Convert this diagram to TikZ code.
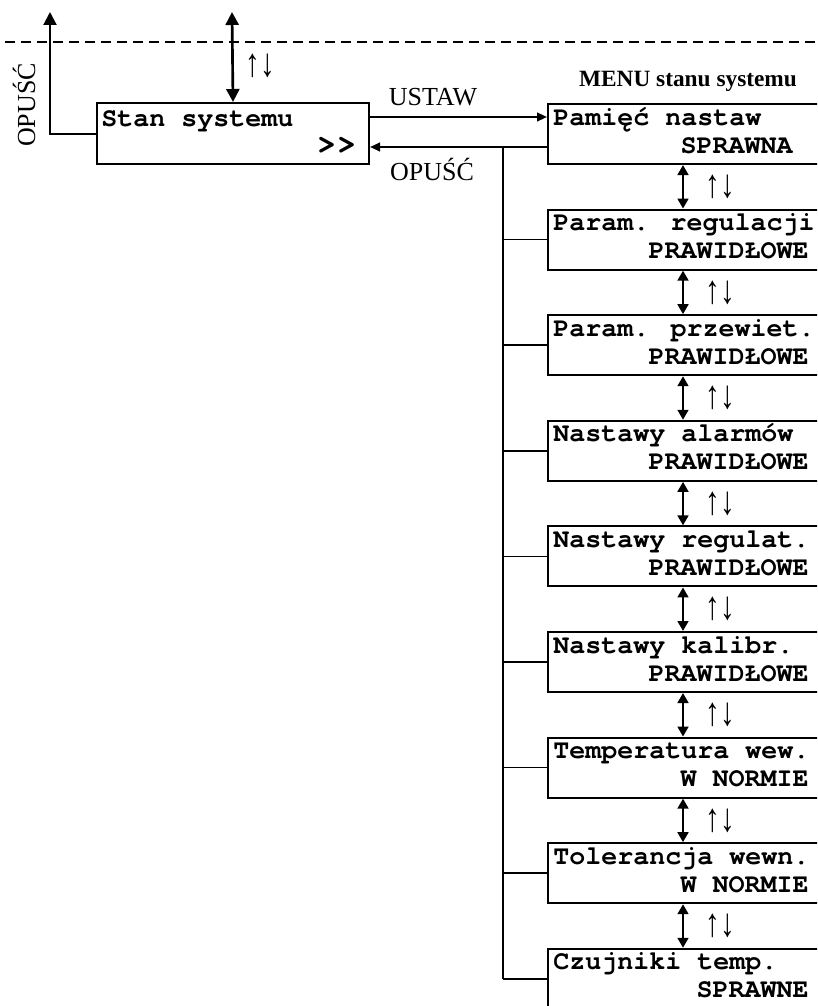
\documentclass[tikz,border=0pt]{standalone}
\usepackage{fontspec}
\setmainfont{Liberation Serif}
\newfontfamily\monob{TeX Gyre Cursor}
\usetikzlibrary{arrows.meta,calc}
\begin{document}
\begin{tikzpicture}[x=0.75pt,y=-0.75pt,
  box/.style={draw, line width=1.5pt, minimum width=212.25pt, minimum height=45pt, inner sep=0pt, anchor=north west},
  sbox/.style={draw, line width=1.5pt, minimum width=204pt, minimum height=45.75pt, inner sep=0pt, anchor=north west},
  mtxt/.style={font=\monob\bfseries\fontsize{20}{24}\selectfont, inner sep=0pt},
  lbl/.style={font=\fontsize{19.5}{23}\selectfont, inner sep=0pt},
  ttl/.style={font=\bfseries\fontsize{17.5}{21}\selectfont, inner sep=0pt},
  ud/.style={font=\fontsize{20}{24}\selectfont, inner sep=0pt},
  bigarr/.style={line width=1.5pt, -{Triangle[length=9.75pt,width=9.75pt]}},
  bigdbl/.style={line width=2pt, {Triangle[length=9.75pt,width=9.75pt]}-{Triangle[length=9.75pt,width=9.75pt]}},
  dbl/.style={line width=2pt, {Triangle[length=7.5pt,width=8pt]}-{Triangle[length=7.5pt,width=8pt]}},
  harr/.style={line width=1.5pt, -{Triangle[length=7.5pt,width=6.5pt]}},
  busline/.style={line width=1.3pt},
]
\useasboundingbox (0,0) rectangle (817,1006);
\clip (0,0) rectangle (817,1006);

% dashed separator
\draw[line width=1.5pt, dash pattern=on 7.5pt off 4.5pt] (5,42) -- (817,42);

% Stan systemu
\node[sbox] (s) at (96,102) {};
\node[mtxt, anchor=base west] (st) at (101,126) {Stan systemu};
\node[mtxt, anchor=base east] (sg) at (357,153) {\scalebox{1.25}{\mbox{>}\mbox{>}}};

\coordinate (t1) at (50,12);
\coordinate (t2) at (232,12);
\draw[bigarr] (s.west) -| (t1);
\draw[bigdbl] (t2) -- (s.north);
\node[lbl, anchor=base, rotate=90] (op1) at (35,105) {OPUŚĆ};
\node[ud] (ud0) at (260,66) {\scalebox{1.1}[1.5]{↑↓}};

% menu boxes
\foreach \i/\a/\b/\e in {
  1/Pamięć nastaw/SPRAWNA/793,
  2/Param. regulacji/PRAWIDŁOWE/809,
  3/Param. przewiet./PRAWIDŁOWE/809,
  4/Nastawy alarmów/PRAWIDŁOWE/809,
  5/Nastawy regulat./PRAWIDŁOWE/809,
  6/Nastawy kalibr./PRAWIDŁOWE/809,
  7/Temperatura wew./W NORMIE/809,
  8/Tolerancja wewn./W NORMIE/809,
  9/Czujniki temp./SPRAWNE/809}{
  \pgfmathsetmacro{\ty}{103+(\i-1)*105.6}
  \node[box] (b\i) at (547,\ty) {};
  \node[mtxt, anchor=base west] (b\i a) at (553,\ty+22) {\a};
  \node[mtxt, anchor=base east] (b\i b) at (\e,\ty+50) {\b};
}

\node[ttl, anchor=base] (menu) at (688,87) {MENU stanu systemu};

% USTAW / OPUSC arrows
\coordinate (uy) at (0,117);
\coordinate (oy) at (0,147);
\draw[harr] (s.east |- uy) -- (b1.west |- uy);
\draw[harr] (b1.west |- oy) -- (s.east |- oy);
\node[lbl, anchor=base] (ustaw) at (433,105) {USTAW};
\node[lbl, anchor=base] (opusc) at (432,180) {OPUŚĆ};

% bus
\coordinate (bus) at (503,0);
\draw[busline] (bus |- oy) -- (bus |- b9.west);
\foreach \i in {2,...,9}{
  \draw[busline] (bus |- b\i.west) -- (b\i.west);
}

% vertical double arrows
\coordinate (col) at (683,0);
\foreach \i/\j in {1/2,2/3,3/4,4/5,5/6,6/7,7/8,8/9}{
  \draw[dbl] (b\i.south -| col) -- (b\j.north -| col);
  \node[ud] (ud\i) at ($(b\i.south -| col)!0.5!(b\j.north -| col) + (37,0)$) {\scalebox{1.1}[1.5]{↑↓}};
}
\end{tikzpicture}
\end{document}
